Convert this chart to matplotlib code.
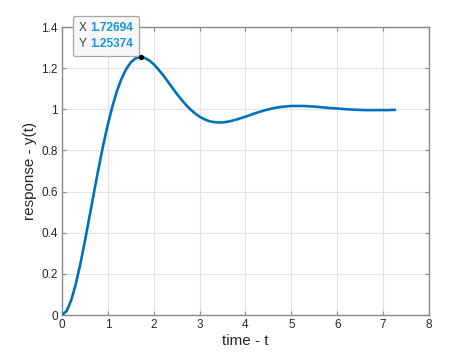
import matplotlib
matplotlib.use("Agg")
import matplotlib.pyplot as plt
from matplotlib.offsetbox import TextArea, HPacker, VPacker, AnnotationBbox

# ---- data ----
time_t = [0.0, 0.1, 0.2, 0.3, 0.4, 0.5, 0.6, 0.7, 0.8, 0.9,
          1.0, 1.1, 1.2, 1.3, 1.4, 1.5, 1.6, 1.7, 1.8, 1.9,
          2.0, 2.1, 2.2, 2.3, 2.4, 2.5, 2.6, 2.7, 2.8, 2.9,
          3.0, 3.1, 3.2, 3.3, 3.4, 3.5, 3.6, 3.7, 3.8, 3.9,
          4.0, 4.1, 4.2, 4.3, 4.4, 4.5, 4.6, 4.7, 4.8, 4.9,
          5.0, 5.1, 5.2, 5.3, 5.4, 5.5, 5.6, 5.7, 5.8, 5.9,
          6.0, 6.1, 6.2, 6.3, 6.4, 6.5, 6.6, 6.7, 6.8, 6.9,
          7.0, 7.1, 7.2, 7.25]
response_y = [0.000, 0.019, 0.071, 0.150, 0.248, 0.360, 0.479, 0.599, 0.716, 0.827,
              0.927, 1.015, 1.090, 1.150, 1.196, 1.228, 1.247, 1.254, 1.250, 1.238,
              1.219, 1.194, 1.167, 1.137, 1.106, 1.076, 1.048, 1.022, 0.999, 0.980,
              0.964, 0.952, 0.943, 0.938, 0.936, 0.936, 0.939, 0.944, 0.950, 0.957,
              0.964, 0.972, 0.980, 0.987, 0.994, 0.9995, 1.005, 1.009, 1.012, 1.014,
              1.016, 1.016, 1.016, 1.016, 1.014, 1.013, 1.011, 1.009, 1.007, 1.005,
              1.004, 1.002, 1.000, 0.999, 0.998, 0.997, 0.996, 0.996, 0.996, 0.996,
              0.996, 0.996, 0.997, 0.997]
peak_t = 1.72694
peak_y = 1.25374
x_ticks = [0, 1, 2, 3, 4, 5, 6, 7, 8]
y_ticks = [0, 0.2, 0.4, 0.6, 0.8, 1.0, 1.2, 1.4]
y_tick_labels = ["0", "0.2", "0.4", "0.6", "0.8", "1", "1.2", "1.4"]
x_label = "time - t"
y_label = "response - y(t)"

plt.rcParams['font.family'] = ['Liberation Sans', 'DejaVu Sans']

fig = plt.figure(figsize=(4.74, 3.55), dpi=100)
ax = fig.add_axes([62/474, 1-315/355, (429-62)/474, (315-27)/355])

ax.plot(time_t, response_y, color='#0072BD', linewidth=1.9, zorder=3)
ax.set_xlim(0, 8)
ax.set_ylim(0, 1.4)
ax.set_xticks(x_ticks)
ax.set_xticklabels([str(v) for v in x_ticks])
ax.set_yticks(y_ticks)
ax.set_yticklabels(y_tick_labels)

ax.grid(True, color='#e3e3e3', linewidth=0.8, zorder=0)
ax.set_axisbelow(True)
for s in ax.spines.values():
    s.set_color('#8a8a8a')
    s.set_linewidth(1.0)
ax.tick_params(direction='in', length=3, width=0.8, color='#8a8a8a',
               labelsize=8.5, labelcolor='#262626', top=True, right=True, pad=3)
ax.set_xlabel(x_label, fontsize=11, color='#262626', labelpad=2)
ax.set_ylabel(y_label, fontsize=11, color='#262626', labelpad=3)

# data tip
fs = 8.6
row1 = HPacker(children=[TextArea("X", textprops=dict(color='#404040', fontsize=fs)),
                         TextArea("1.72694", textprops=dict(color='#1a94e0', fontsize=fs, fontweight='bold'))],
               sep=2.5, pad=0, align='baseline')
row2 = HPacker(children=[TextArea("Y", textprops=dict(color='#404040', fontsize=fs)),
                         TextArea("1.25374", textprops=dict(color='#1a94e0', fontsize=fs, fontweight='bold'))],
               sep=2.5, pad=0, align='baseline')
box = VPacker(children=[row1, row2], sep=2.8, pad=0, align='left')
ab = AnnotationBbox(box, (peak_t, peak_y), xycoords='data',
                    xybox=(-5.8, 5.0), boxcoords='offset points',
                    box_alignment=(1, 0), frameon=True, pad=0,
                    bboxprops=dict(boxstyle='round,pad=0.45,rounding_size=0.2',
                                   fc='#f8f8f8', ec='#a6a6a6', lw=0.9),
                    zorder=6, annotation_clip=False)
ax.add_artist(ab)
ax.plot([peak_t], [peak_y], 'o', color='black', markersize=2.8, zorder=7)

fig.savefig('out.png', dpi=100)
